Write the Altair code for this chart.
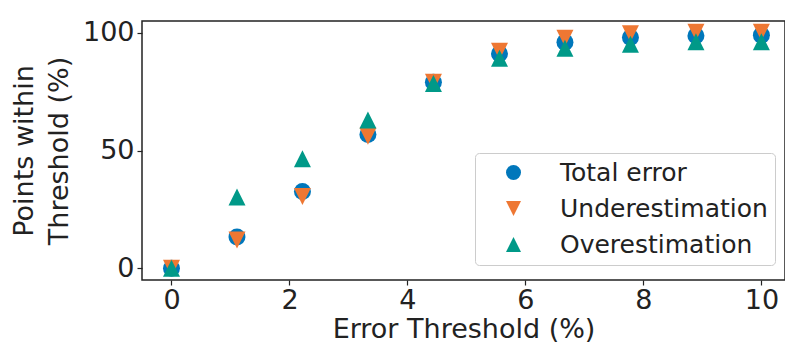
import altair as alt
import pandas as pd

thresholds = [0, 1.11, 2.22, 3.33, 4.44, 5.56, 6.67, 7.78, 8.89, 10]
total_error = [0, 13.3, 32.6, 56.8, 79, 91.1, 96, 98, 98.7, 99]
underestimation = [0, 12, 30.5, 56.1, 79, 92.2, 97.7, 99.6, 100.2, 100.2]
overestimation = [0, 30.3, 46.5, 63, 78.5, 89.2, 93.4, 95.1, 96.2, 96.2]

series_names = ["Total error", "Underestimation", "Overestimation"]
series_colors = ["#0077BB", "#EE7733", "#009988"]
series_shapes = ["circle", "M0,1L-1,-1L1,-1Z", "M0,-1L-1,1L1,1Z"]

x_ticks = [0, 2, 4, 6, 8, 10]
y_ticks = [0, 50, 100]

rows = []
for name, vals in zip(series_names, [total_error, underestimation, overestimation]):
    for t, v in zip(thresholds, vals):
        rows.append({"threshold": t, "pct": v, "series": name})
df = pd.DataFrame(rows)

FONT = "DejaVu Sans"

legend_opts = dict(title=None, orient="none", legendX=333, legendY=132, labelLimit=0)

chart = (
    alt.Chart(df)
    .mark_point(filled=True, opacity=1, size=289, strokeWidth=0)
    .encode(
        x=alt.X(
            "threshold:Q",
            scale=alt.Scale(domain=[-0.5, 10.4], nice=False, zero=False),
            axis=alt.Axis(values=x_ticks, title="Error Threshold (%)", grid=False,
                          domain=False, format="d"),
        ),
        y=alt.Y(
            "pct:Q",
            scale=alt.Scale(domain=[-5, 105], nice=False, zero=False),
            axis=alt.Axis(values=y_ticks, title=["Points within", "Threshold (%)"],
                          grid=False, domain=False, format="d"),
        ),
        color=alt.Color(
            "series:N",
            scale=alt.Scale(domain=series_names, range=series_colors),
            legend=alt.Legend(**legend_opts),
        ),
        shape=alt.Shape(
            "series:N",
            scale=alt.Scale(domain=series_names, range=series_shapes),
            legend=alt.Legend(**legend_opts),
        ),
    )
    .properties(
        width=643,
        height=259,
        autosize=alt.AutoSizeParams(type="none"),
        padding={"left": 134, "top": 13, "right": 0, "bottom": 70},
    )
    .configure_view(stroke="#222222", strokeWidth=1.5)
    .configure_axis(
        labelFont=FONT, titleFont=FONT, labelFontSize=27, titleFontSize=27,
        labelColor="#222222", titleColor="#222222", titleFontWeight="normal",
        tickColor="#222222", tickSize=5, tickWidth=1.2, labelPadding=3,
    )
    .configure_axisX(titlePadding=3, labelPadding=2)
    .configure_axisY(titlePadding=9, titleLineHeight=35)
    .configure_legend(
        labelFont=FONT, labelFontSize=25, labelColor="#222222",
        symbolSize=225, symbolStrokeWidth=0, symbolOffset=19, labelOffset=34,
        rowPadding=10, padding=7, fillColor="white", strokeColor="#cccccc",
        cornerRadius=4, symbolOpacity=1,
    )
)

chart.save("out.html", embed_options={"renderer": "svg", "actions": False})
